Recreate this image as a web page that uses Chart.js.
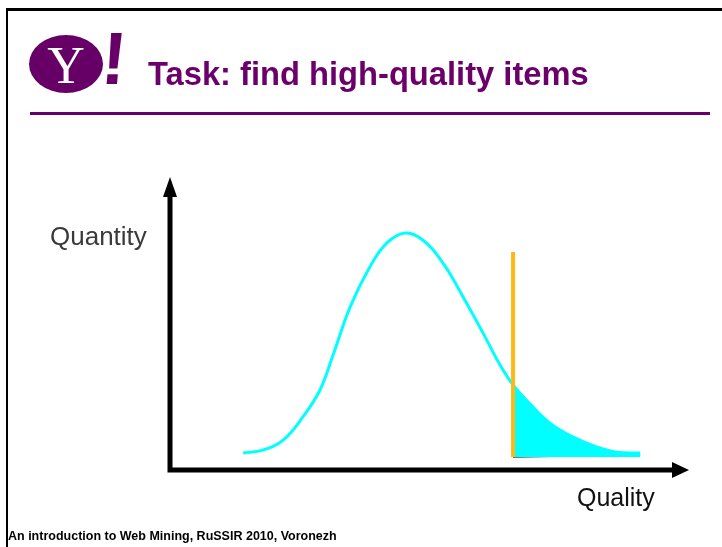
<!DOCTYPE html>
<html>
<head>
<meta charset="utf-8">
<script src="https://cdn.jsdelivr.net/npm/chart.js@4"></script>
<style>
  body { margin: 0; background: #fff; font-family: "Liberation Sans", Arial, sans-serif; }
  #slide { position: relative; width: 722px; height: 547px; overflow: hidden; background: #fff; }
  #frame { position: absolute; left: 6px; top: 8px; right: -10px; bottom: -10px;
           border-top: 3px solid #000; border-left: 2px solid #000; }
  #chart { position: absolute; left: 0; top: 0; }
  .logo { position: absolute; left: 29px; top: 35px; width: 74px; height: 58px; border-radius: 50%;
          background: #660066; color: #fff; font-family: "Liberation Serif", serif; font-size: 52px;
          line-height: 62px; text-align: center; }
  .bang { position: absolute; left: 101px; top: 22px; color: #660066; font-family: "Liberation Sans", sans-serif;
          font-weight: bold; font-style: italic; font-size: 74px; line-height: 74px; transform: skewX(6deg); }
  .title { position: absolute; left: 148px; top: 55px; color: #6b006b; font-weight: bold; font-size: 32.7px;
           line-height: 38px; white-space: nowrap; }
  .rule { position: absolute; left: 30px; top: 112px; width: 680px; height: 3px; background: #660066; }
  .ylab { position: absolute; left: 50px; top: 221px; font-size: 26px; color: #3a3a3a; line-height: 30px; }
  .xlab { position: absolute; left: 577px; top: 482px; font-size: 25px; color: #111; line-height: 30px; }
  .foot { position: absolute; left: 8px; top: 529px; font-size: 12.5px; font-weight: bold; color: #000;
          white-space: nowrap; line-height: 15px; }
</style>
</head>
<body>
<div id="slide">
  <div id="frame"></div>
  <canvas id="chart" width="722" height="547"></canvas>
  <div class="logo">Y</div>
  <div class="bang">!</div>
  <div class="title">Task: find high-quality items</div>
  <div class="rule"></div>
  <div class="ylab">Quantity</div>
  <div class="xlab">Quality</div>
  <div class="foot">An introduction to Web Mining, RuSSIR 2010, Voronezh</div>
</div>
<script>
// curve (quality vs quantity, arbitrary units 0-100)
const quality = [14.1, 17.9, 21.8, 25.6, 28.9, 31.4, 34.7, 38.5, 41.8, 45.3, 48.7,
                 52.6, 56.5, 60.3, 63.6, 66.1, 69.4, 73.2, 77.6, 82.3, 86.1, 90.6];
const quantity = [5.8, 6.8, 10.2, 18.1, 27.3, 39.2, 55.6, 69.3, 77.5, 80.9, 78.5,
                  70.6, 59.0, 46.8, 35.8, 29.0, 22.5, 16.0, 11.3, 7.8, 6.1, 5.8];
// threshold marker
const threshold = 66.1;
const thresholdTop = 74.4;
const tailBase = 4.4;

const curvePts = quality.map((q, i) => ({ x: q, y: quantity[i] }));
const tailPts = curvePts.filter(p => p.x >= threshold);

// axes with arrow heads
const arrowAxes = {
  id: 'arrowAxes',
  afterDraw(chart) {
    const { ctx, chartArea: a } = chart;
    ctx.save();
    ctx.fillStyle = '#000';
    ctx.strokeStyle = '#000';
    ctx.lineWidth = 5;
    ctx.beginPath();
    ctx.moveTo(a.left, a.bottom + 2.5);
    ctx.lineTo(a.left, a.top + 18);
    ctx.moveTo(a.left - 2.5, a.bottom);
    ctx.lineTo(a.right - 15, a.bottom);
    ctx.stroke();
    ctx.beginPath();
    ctx.moveTo(a.left, a.top);
    ctx.lineTo(a.left - 7, a.top + 20);
    ctx.lineTo(a.left + 7, a.top + 20);
    ctx.closePath();
    ctx.fill();
    ctx.beginPath();
    ctx.moveTo(a.right, a.bottom);
    ctx.lineTo(a.right - 17, a.bottom - 8);
    ctx.lineTo(a.right - 17, a.bottom + 8);
    ctx.closePath();
    ctx.fill();
    ctx.restore();
  }
};

const ctx = document.getElementById('chart').getContext('2d');
const chart = new Chart(ctx, {
  type: 'line',
  data: {
    datasets: [
      {
        label: 'threshold',
        data: [{ x: threshold, y: tailBase }, { x: threshold, y: thresholdTop }],
        borderColor: '#fdb913',
        borderWidth: 4,
        pointRadius: 0,
        order: 0
      },
      {
        label: 'distribution',
        data: curvePts,
        borderColor: '#00ffff',
        borderWidth: 3,
        pointRadius: 0,
        tension: 0.4,
        fill: false,
        order: 1
      },
      {
        label: 'tail',
        data: tailPts,
        borderColor: '#00ffff',
        borderWidth: 0,
        backgroundColor: '#00ffff',
        pointRadius: 0,
        tension: 0.4,
        fill: { value: tailBase },
        order: 2
      },
      {
        label: 'tail base',
        data: [{ x: threshold, y: tailBase }, { x: quality[quality.length - 1], y: tailBase + 0.8 }],
        borderColor: '#333',
        borderWidth: 1.5,
        pointRadius: 0,
        order: 3
      }
    ]
  },
  options: {
    responsive: false,
    animation: false,
    layout: { padding: { left: 170, right: 33, top: 177, bottom: 77 } },
    scales: {
      x: { type: 'linear', min: 0, max: 100, display: false },
      y: { min: 0, max: 100, display: false }
    },
    plugins: {
      legend: { display: false },
      tooltip: { enabled: false }
    }
  },
  plugins: [arrowAxes]
});
</script>
</body>
</html>
